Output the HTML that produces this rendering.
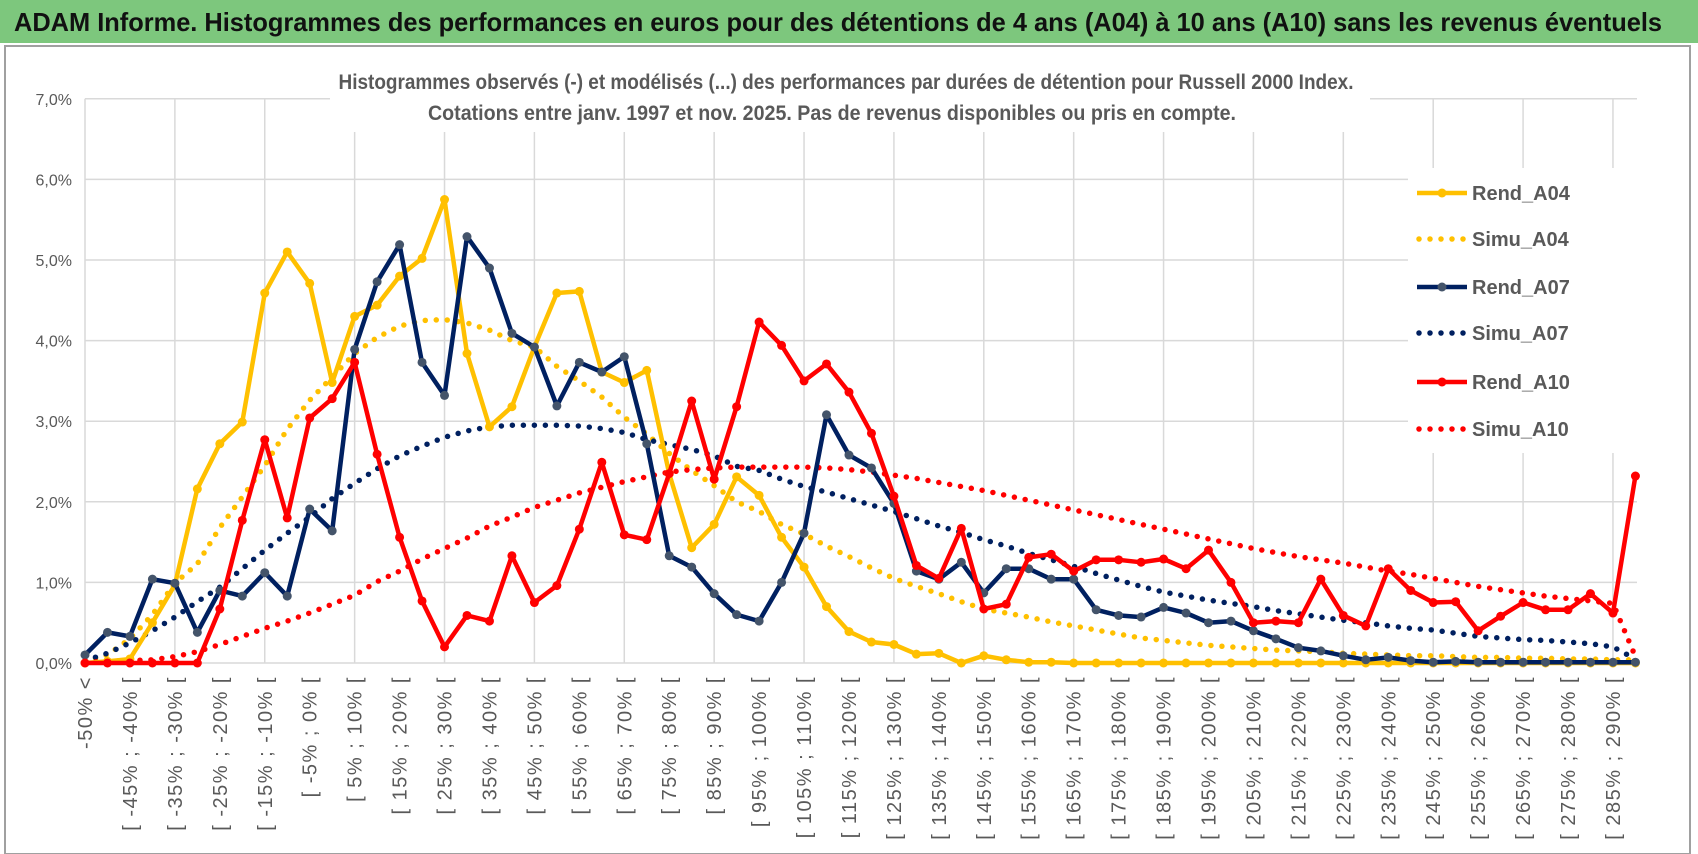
<!DOCTYPE html>
<html><head><meta charset="utf-8"><style>
html,body{margin:0;padding:0;background:#fff;}
svg{display:block;}
text{font-family:"Liberation Sans Narrow","Liberation Sans",sans-serif;}
</style></head><body>
<svg id="chart" width="1698" height="854" viewBox="0 0 1698 854" xmlns="http://www.w3.org/2000/svg">
<rect x="0" y="0" width="1698" height="854" fill="#fff"/>
<rect x="0" y="0" width="1698" height="43" fill="#7dc77d"/>
<text x="14" y="31" font-size="26" font-weight="bold" fill="#111" textLength="1648" lengthAdjust="spacingAndGlyphs">ADAM Informe. Histogrammes des performances en euros pour des détentions de 4 ans (A04) à 10 ans (A10) sans les revenus éventuels</text>
<rect x="5" y="46" width="1685" height="808" fill="none" stroke="#a0a0a0" stroke-width="2"/>
<g id="grid"></g>
<rect x="1408" y="168" width="240" height="285" fill="#fff"/>
<rect x="330" y="62" width="1040" height="70" fill="#fff"/>
<text x="846" y="89" text-anchor="middle" font-size="21" font-weight="bold" fill="#595959" textLength="1015" lengthAdjust="spacingAndGlyphs">Histogrammes observés (-) et modélisés (...) des performances par durées de détention pour Russell 2000 Index.</text>
<text x="832" y="120" text-anchor="middle" font-size="21" font-weight="bold" fill="#595959" textLength="808" lengthAdjust="spacingAndGlyphs">Cotations entre janv. 1997 et nov. 2025. Pas de revenus disponibles ou pris en compte.</text>
<g id="axes"></g>
<g id="series"></g>
<g id="legend"></g>
</svg>
<script>
const rendA04=[0,0.02,0.05,0.5,0.97,2.16,2.72,2.99,4.59,5.10,4.71,3.48,4.30,4.44,4.80,5.02,5.75,3.84,2.93,3.18,3.92,4.59,4.61,3.61,3.48,3.63,2.35,1.43,1.72,2.31,2.08,1.56,1.19,0.70,0.39,0.26,0.23,0.11,0.12,0.0,0.09,0.04,0.01,0.01,0,0,0,0,0,0,0,0,0,0,0,0,0,0,0,0,0,0,0,0,0,0,0,0,0,0];
const simuA04=[0.02,0.1,0.3,0.6,0.99,1.23,1.68,2.06,2.45,2.9,3.26,3.55,3.84,4.04,4.18,4.25,4.26,4.22,4.13,4.0,3.92,3.68,3.5,3.3,3.05,2.84,2.6,2.39,2.2,2.0,1.88,1.72,1.6,1.45,1.32,1.18,1.05,0.95,0.86,0.76,0.67,0.62,0.57,0.51,0.46,0.41,0.36,0.31,0.28,0.25,0.22,0.2,0.18,0.16,0.15,0.14,0.12,0.11,0.1,0.09,0.09,0.08,0.07,0.07,0.06,0.06,0.05,0.05,0.04,0.04];
const rendA07=[0.10,0.38,0.33,1.04,0.99,0.38,0.90,0.83,1.12,0.83,1.91,1.64,3.89,4.73,5.19,3.73,3.32,5.29,4.90,4.09,3.92,3.19,3.73,3.61,3.80,2.72,1.33,1.19,0.86,0.60,0.52,1.0,1.61,3.08,2.58,2.42,1.98,1.14,1.04,1.25,0.87,1.17,1.17,1.04,1.04,0.66,0.59,0.57,0.69,0.62,0.5,0.52,0.4,0.3,0.19,0.15,0.09,0.04,0.07,0.03,0.01,0.02,0.01,0.01,0.01,0.01,0.01,0.01,0.01,0.01];
const simuA07=[0.03,0.12,0.25,0.4,0.57,0.76,0.94,1.17,1.40,1.61,1.81,2.04,2.23,2.41,2.57,2.69,2.80,2.88,2.93,2.95,2.95,2.95,2.94,2.91,2.86,2.77,2.71,2.65,2.57,2.44,2.39,2.28,2.19,2.12,2.04,1.96,1.88,1.79,1.7,1.62,1.53,1.45,1.36,1.28,1.2,1.11,1.03,0.95,0.88,0.83,0.78,0.74,0.7,0.65,0.61,0.57,0.53,0.5,0.46,0.43,0.41,0.37,0.33,0.31,0.29,0.28,0.26,0.24,0.2,0.05];
const rendA10=[0,0,0,0,0,0,0.67,1.77,2.77,1.80,3.04,3.28,3.73,2.59,1.56,0.77,0.2,0.59,0.52,1.33,0.75,0.96,1.66,2.49,1.59,1.53,2.35,3.25,2.28,3.18,4.23,3.94,3.50,3.71,3.36,2.85,2.07,1.21,1.05,1.67,0.67,0.73,1.31,1.35,1.14,1.28,1.28,1.25,1.29,1.17,1.40,1.0,0.5,0.52,0.5,1.04,0.59,0.46,1.17,0.9,0.75,0.76,0.40,0.58,0.75,0.66,0.66,0.86,0.62,2.32];
const simuA10=[0.01,0.02,0.03,0.04,0.08,0.14,0.23,0.33,0.43,0.52,0.62,0.73,0.84,1.01,1.14,1.29,1.42,1.55,1.70,1.81,1.93,2.02,2.11,2.18,2.25,2.31,2.37,2.40,2.42,2.43,2.43,2.43,2.43,2.42,2.40,2.37,2.33,2.29,2.24,2.19,2.14,2.08,2.02,1.96,1.90,1.84,1.78,1.72,1.66,1.60,1.54,1.48,1.42,1.37,1.32,1.28,1.24,1.19,1.14,1.10,1.05,1.0,0.95,0.91,0.87,0.83,0.80,0.77,0.74,0.08];
const yTicks=[0,1,2,3,4,5,6,7];
const categories=["-50% <"];
for(let k=1;k<70;k++){const a=-55+5*k;categories.push("[ "+a+"% ; "+(a+5)+"% [");}

const NS="http://www.w3.org/2000/svg";
const X0=85,STEP=22.47,Y0=663,PER=80.6;
const xs=k=>X0+k*STEP, ys=v=>Y0-v*PER;
function mk(tag,attrs,parent){const e=document.createElementNS(NS,tag);for(const a in attrs)e.setAttribute(a,attrs[a]);parent.appendChild(e);return e;}
const grid=document.getElementById('grid'),axes=document.getElementById('axes'),ser=document.getElementById('series'),leg=document.getElementById('legend');
yTicks.forEach(t=>{
  const l=mk('line',{x1:X0,x2:1637,y1:ys(t),y2:ys(t),stroke:'#d9d9d9','stroke-width':1.5},grid);
  
  
  const tx=mk('text',{x:72,y:ys(t)+6,'text-anchor':'end','font-size':16,fill:'#595959'},axes);
  tx.textContent=t.toFixed(1).replace('.',',')+'%';
  
  
});
for(let k=0;k<70;k+=4){
  const l=mk('line',{x1:xs(k),x2:xs(k),y1:ys(7),y2:Y0,stroke:'#d9d9d9','stroke-width':1.5},grid);
  
  
}
categories.forEach((c,k)=>{
  if(k%2)return;
  const tx=mk('text',{x:0,y:0,'text-anchor':'end','font-size':20,fill:'#595959','letter-spacing':'1.5',transform:'translate('+(xs(k)+7)+',676) rotate(-90)'},axes);
  tx.textContent=c;
  
  
});
function pts(arr){return arr.map((v,k)=>xs(k).toFixed(1)+','+ys(v).toFixed(1)).join(' ');}
function simu(arr,color,name){
  const p=mk('polyline',{points:pts(arr),fill:'none',stroke:color,'stroke-width':5.5,'stroke-dasharray':'0 11','stroke-linecap':'round'},ser);
  
  
}
function rend(arr,color,mcolor,name){
  const p=mk('polyline',{points:pts(arr),fill:'none',stroke:color,'stroke-width':4.5,'stroke-linejoin':'round'},ser);
  
  
  arr.forEach((v,k)=>{
    const c=mk('circle',{cx:xs(k),cy:ys(v),r:4.5,fill:mcolor},ser);
    
    
  });
}
simu(simuA04,'#ffc000','simu-a04-line');
simu(simuA07,'#002060','simu-a07-line');
simu(simuA10,'#ff0000','simu-a10-line');
rend(rendA04,'#ffc000','#ffc000','rend-a04-line');
rend(rendA07,'#002060','#44546a','rend-a07-line');
rend(rendA10,'#ff0000','#ff0000','rend-a10-line');
const legendItems=[['Rend_A04','#ffc000',false],['Simu_A04','#ffc000',true],['Rend_A07','#002060',false],['Simu_A07','#002060',true],['Rend_A10','#ff0000',false],['Simu_A10','#ff0000',true]];
const legY=[193,239,287,333,382,429];
legendItems.forEach((it,i)=>{
  const g=mk('g',{},leg);
  
  
  const y=legY[i];
  if(it[2]){mk('line',{x1:1419,x2:1467,y1:y,y2:y,stroke:it[1],'stroke-width':5.5,'stroke-dasharray':'0 11','stroke-linecap':'round'},g);}
  else{mk('line',{x1:1417,x2:1467,y1:y,y2:y,stroke:it[1],'stroke-width':4.5},g);mk('circle',{cx:1442,cy:y,r:4.5,fill:it[1]==='#002060'?'#44546a':it[1]},g);}
  const t=mk('text',{x:1472,y:y+7,'font-size':20,'font-weight':'bold',fill:'#595959'},g);
  t.textContent=it[0];
});
</script>
</body></html>
